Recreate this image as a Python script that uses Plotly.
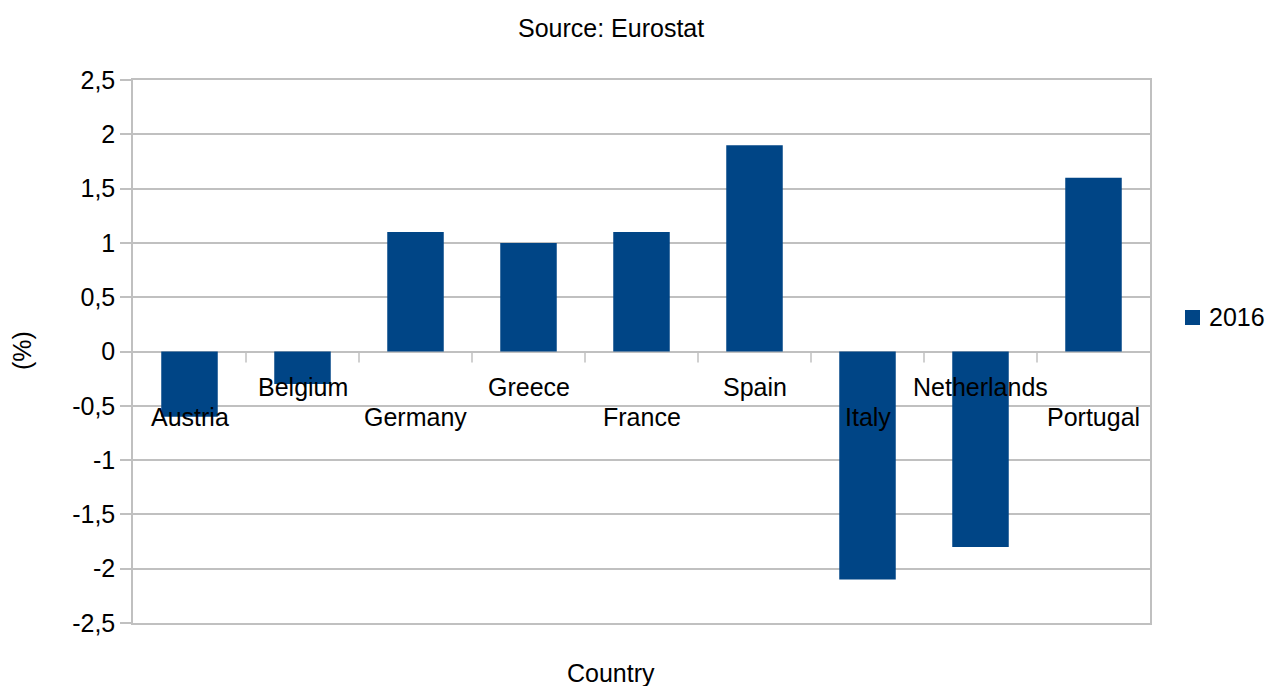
import plotly.graph_objects as go

countries = ["Austria", "Belgium", "Germany", "Greece", "France", "Spain", "Italy", "Netherlands", "Portugal"]
values_2016 = [-0.6, -0.3, 1.1, 1.0, 1.1, 1.9, -2.1, -1.8, 1.6]
series_name = "2016"
y_tickvals = [2.5, 2, 1.5, 1, 0.5, 0, -0.5, -1, -1.5, -2, -2.5]
y_ticktext = ["2,5", "2", "1,5", "1", "0,5", "0", "-0,5", "-1", "-1,5", "-2", "-2,5"]

FONT = "Liberation Sans, Arial, sans-serif"
FS = 25
GRID = "#c0c0c0"
BAR = "#004586"

W, H = 1266, 686
L, R, T, B = 133, 116, 80, 63
pw, ph = W - L - R, H - T - B


def px2paper(px, py):
    return (px - L) / pw, 1 - (py - T) / ph


fig = go.Figure()
fig.add_trace(go.Bar(x=countries, y=values_2016, name=series_name, showlegend=False,
                     marker=dict(color=BAR, line=dict(width=0))))

# category labels at the zero line, staggered like the original
annotations = []
for i, c in enumerate(countries):
    annotations.append(dict(x=c, y=0, xref="x", yref="y", text=c, showarrow=False,
                            yanchor="middle", yshift=-65 if i % 2 == 0 else -35,
                            font=dict(size=FS, color="black", family=FONT)))


def page_text(text, px, py, xanchor="center", angle=0):
    x, y = px2paper(px, py)
    return dict(x=x, y=y, xref="paper", yref="paper", text=text, showarrow=False,
                xanchor=xanchor, yanchor="middle", textangle=angle,
                font=dict(size=FS, color="black", family=FONT))


annotations.append(page_text("Source: Eurostat", 611, 28))
annotations.append(page_text("Country", 611, 673))
annotations.append(page_text("(%)", 22, 351, angle=-90))
annotations.append(page_text(series_name, 1207, 317, xanchor="left"))

shapes = []
for k in range(len(countries) - 1):
    shapes.append(dict(type="line", xref="x", yref="y", x0=k + 0.5, x1=k + 0.5,
                       ysizemode="pixel", yanchor=0, y0=0, y1=-11,
                       line=dict(color=GRID, width=1.5)))
# legend key square
sx0, sy0 = px2paper(1185, 325)
sx1, sy1 = px2paper(1200, 310)
shapes.append(dict(type="rect", xref="paper", yref="paper", x0=sx0, x1=sx1, y0=sy0, y1=sy1,
                   fillcolor=BAR, line=dict(width=0)))

fig.update_layout(
    width=W, height=H,
    margin=dict(l=L, r=R, t=T, b=B, autoexpand=False),
    paper_bgcolor="white", plot_bgcolor="white",
    font=dict(family=FONT, size=FS, color="black"),
    bargap=0.5,
    showlegend=False,
    annotations=annotations,
    shapes=shapes,
    xaxis=dict(type="category", showticklabels=False, ticks="", showgrid=False,
               showline=True, linecolor=GRID, linewidth=1.5, mirror=True, zeroline=False),
    yaxis=dict(range=[-2.5, 2.5], tickvals=y_tickvals, ticktext=y_ticktext,
               showgrid=True, gridcolor=GRID, gridwidth=1.5,
               ticks="outside", ticklen=11, tickcolor=GRID, tickwidth=1.5,
               showline=True, linecolor=GRID, linewidth=1.5, mirror=True,
               zeroline=True, zerolinecolor=GRID, zerolinewidth=1.5,
               tickfont=dict(size=FS, color="black", family=FONT)),
)

fig.write_html("out.html")
